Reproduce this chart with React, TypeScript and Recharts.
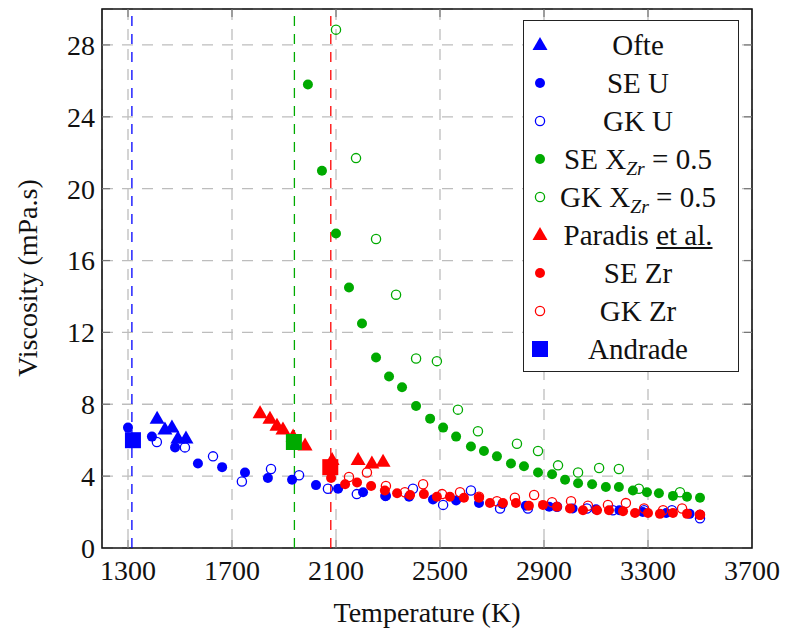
import React from "react";
import {
  ScatterChart,
  Scatter,
  XAxis,
  YAxis,
  CartesianGrid,
  ReferenceLine,
  ReferenceArea,
} from "recharts";

const xTicks = [1300, 1700, 2100, 2500, 2900, 3300, 3700];
const yTicks = [0, 4, 8, 12, 16, 20, 24, 28];
const xMin = 1200;
const xMax = 3700;
const yMin = 0;
const yMax = 30;

// melting points (dashed verticals)
const meltU = 1315;
const meltMix = 1940;
const meltZr = 2080;

const ofteT = [1412, 1442, 1469, 1492, 1523];
const ofteV = [7.2, 6.6, 6.7, 6.1, 6.1];

const seUT = [1300, 1392, 1481, 1569, 1662, 1750, 1838, 1931, 2023, 2108, 2204, 2292, 2381, 2473, 2562, 2650, 2740, 2830, 2920, 3010, 3100, 3190, 3280, 3370, 3460, 3500];
const seUV = [6.7, 6.2, 5.6, 4.7, 4.5, 4.2, 3.9, 3.8, 3.5, 3.3, 3.1, 2.9, 2.85, 2.7, 2.65, 2.5, 2.45, 2.35, 2.3, 2.2, 2.15, 2.1, 2.0, 1.95, 1.9, 1.85];

const gkUT = [1411, 1519, 1627, 1738, 1850, 1958, 2069, 2180, 2290, 2396, 2512, 2619, 2731, 2838, 2950, 3065, 3165, 3285, 3392, 3500];
const gkUV = [5.9, 5.6, 5.1, 3.7, 4.4, 4.05, 3.3, 3.0, 2.9, 3.3, 2.4, 3.2, 2.2, 2.2, 2.3, 2.2, 2.1, 2.1, 2.1, 1.65];

const seMixT = [1992, 2046, 2100, 2150, 2200, 2254, 2304, 2354, 2408, 2462, 2512, 2562, 2619, 2669, 2719, 2773, 2823, 2877, 2931, 2981, 3031, 3085, 3138, 3188, 3242, 3296, 3342, 3396, 3450, 3500];
const seMixV = [25.8, 21.0, 17.5, 14.5, 12.5, 10.6, 9.55, 8.95, 7.9, 7.2, 6.7, 6.2, 5.65, 5.4, 5.1, 4.7, 4.55, 4.2, 4.1, 3.8, 3.6, 3.55, 3.4, 3.4, 3.2, 3.1, 3.05, 2.9, 2.85, 2.8];

const gkMixT = [2100, 2177, 2254, 2331, 2408, 2488, 2569, 2646, 2796, 2877, 2954, 3031, 3112, 3188, 3265, 3423];
const gkMixV = [28.85, 21.7, 17.2, 14.1, 10.55, 10.4, 7.7, 6.5, 5.8, 5.4, 4.6, 4.2, 4.45, 4.4, 3.3, 3.1];

const paradisT = [1808, 1846, 1873, 1896, 1935, 1981, 2085, 2185, 2238, 2281];
const paradisV = [7.5, 7.2, 6.8, 6.6, 6.2, 5.7, 4.9, 4.9, 4.7, 4.8];

const seZrT = [2081, 2135, 2181, 2235, 2288, 2335, 2385, 2438, 2488, 2538, 2592, 2650, 2692, 2742, 2792, 2842, 2896, 2950, 3000, 3050, 3104, 3150, 3204, 3250, 3300, 3346, 3396, 3450, 3500];
const seZrV = [3.9, 3.55, 3.65, 3.45, 3.2, 3.05, 2.95, 3.0, 2.85, 2.85, 2.8, 2.8, 2.5, 2.5, 2.5, 2.35, 2.4, 2.3, 2.2, 2.1, 2.1, 2.1, 2.05, 1.95, 1.95, 1.9, 1.95, 1.9, 1.85];

const gkZrT = [2150, 2219, 2292, 2365, 2435, 2508, 2577, 2650, 2719, 2788, 2862, 2931, 3004, 3069, 3146, 3215, 3285, 3358, 3431, 3500];
const gkZrV = [3.95, 4.2, 3.45, 3.1, 3.55, 3.0, 3.1, 2.85, 2.6, 2.8, 2.95, 2.55, 2.6, 2.35, 2.4, 2.5, 2.2, 2.1, 2.2, 1.85];

const andradeUT = [1319];
const andradeUV = [6.0];
const andradeMixT = [1938];
const andradeMixV = [5.9];
const andradeZrT = [2078];
const andradeZrV = [4.5];

const BLUE = "#0000ff";
const GREEN = "#00aa00";
const RED = "#ff0000";
const FONT = "Liberation Serif";

const pts = (t: number[], v: number[]) => t.map((x, i) => ({ x, y: v[i] }));

type Kind = "tri" | "dot" | "ring" | "sq";

function Marker({ kind, color, cx, cy }: { kind: Kind; color: string; cx: number; cy: number }) {
  if (kind === "tri")
    return (
      <polygon
        points={`${cx},${cy - 8} ${cx - 7.5},${cy + 5} ${cx + 7.5},${cy + 5}`}
        fill={color}
      />
    );
  if (kind === "dot") return <circle cx={cx} cy={cy} r={5} fill={color} />;
  if (kind === "ring")
    return <circle cx={cx} cy={cy} r={4.6} fill="none" stroke={color} strokeWidth={1.3} />;
  return <rect x={cx - 8} y={cy - 8} width={16} height={16} fill={color} />;
}

const shape = (kind: Kind, color: string) => (p: any) =>
  <Marker kind={kind} color={color} cx={p.cx} cy={p.cy} />;

const series: { name: string; kind: Kind; color: string; data: { x: number; y: number }[] }[] = [
  { name: "Ofte", kind: "tri", color: BLUE, data: pts(ofteT, ofteV) },
  { name: "SE U", kind: "dot", color: BLUE, data: pts(seUT, seUV) },
  { name: "GK U", kind: "ring", color: BLUE, data: pts(gkUT, gkUV) },
  { name: "SE Xmix", kind: "dot", color: GREEN, data: pts(seMixT, seMixV) },
  { name: "GK Xmix", kind: "ring", color: GREEN, data: pts(gkMixT, gkMixV) },
  { name: "Paradis", kind: "tri", color: RED, data: pts(paradisT, paradisV) },
  { name: "SE Zr", kind: "dot", color: RED, data: pts(seZrT, seZrV) },
  { name: "GK Zr", kind: "ring", color: RED, data: pts(gkZrT, gkZrV) },
  { name: "Andrade U", kind: "sq", color: BLUE, data: pts(andradeUT, andradeUV) },
  { name: "Andrade mix", kind: "sq", color: GREEN, data: pts(andradeMixT, andradeMixV) },
  { name: "Andrade Zr", kind: "sq", color: RED, data: pts(andradeZrT, andradeZrV) },
];

const sub = (
  <sub style={{ fontSize: "0.68em", fontStyle: "italic", verticalAlign: "-0.3em", fontFamily: FONT }}>Zr</sub>
);

const legendItems: { kind: Kind; color: string; label: React.ReactNode }[] = [
  { kind: "tri", color: BLUE, label: "Ofte" },
  { kind: "dot", color: BLUE, label: "SE U" },
  { kind: "ring", color: BLUE, label: "GK U" },
  { kind: "dot", color: GREEN, label: <>SE X{sub} = 0.5</> },
  { kind: "ring", color: GREEN, label: <>GK X{sub} = 0.5</> },
  { kind: "tri", color: RED, label: <>Paradis <u>et al.</u></> },
  { kind: "dot", color: RED, label: "SE Zr" },
  { kind: "ring", color: RED, label: "GK Zr" },
  { kind: "sq", color: BLUE, label: "Andrade" },
];

const tickLenY = 0.45;
const tickLenX = 31;

function YTitle() {
  return (
    <text
      x={37}
      y={278}
      transform="rotate(-90 37 278)"
      textAnchor="middle"
      fontSize={28}
      fontFamily={FONT}
      fill="#111"
    >
      Viscosity (mPa.s)
    </text>
  );
}

export default function App() {
  const tickStyle = { fontSize: 28, fill: "#111", fontFamily: FONT };
  return (
    <div
      style={{
        position: "absolute",
        left: 0,
        top: 0,
        width: 785,
        height: 629,
        background: "#fff",
        fontFamily: FONT,
      }}
    >
      <ScatterChart width={785} height={629} margin={{ top: 9, right: 33, bottom: 0, left: 0 }}>
        <CartesianGrid stroke="#bdbdbd" strokeWidth={1.3} strokeDasharray="11 9" />
        <XAxis
          type="number"
          dataKey="x"
          domain={[xMin, xMax]}
          ticks={xTicks}
          height={81}
          tickLine={false}
          axisLine={false}
          tickSize={0}
          tickMargin={12}
          tick={tickStyle}
          label={{
            value: "Temperature (K)",
            position: "insideBottom",
            offset: 7,
            style: { fontSize: 28, fill: "#111", fontFamily: FONT },
          }}
        />
        <YAxis
          type="number"
          dataKey="y"
          domain={[yMin, yMax]}
          ticks={yTicks}
          width={102}
          tickLine={false}
          axisLine={false}
          tickSize={0}
          tickMargin={7}
          tick={tickStyle}
          label={{ content: () => <YTitle /> }}
        />
        <ReferenceLine x={meltU} stroke={BLUE} strokeWidth={1.3} strokeDasharray="10 8" />
        <ReferenceLine x={meltMix} stroke={GREEN} strokeWidth={1.3} strokeDasharray="10 8" />
        <ReferenceLine x={meltZr} stroke={RED} strokeWidth={1.3} strokeDasharray="10 8" />
        {xTicks
          .filter((t) => t > xMin && t < xMax)
          .flatMap((t) => [
            <ReferenceLine key={`xb${t}`} segment={[{ x: t, y: yMin }, { x: t, y: yMin + tickLenY }]} stroke="#777" strokeWidth={1.2} />,
            <ReferenceLine key={`xt${t}`} segment={[{ x: t, y: yMax - tickLenY }, { x: t, y: yMax }]} stroke="#777" strokeWidth={1.2} />,
          ])}
        {yTicks
          .filter((t) => t > yMin && t < yMax)
          .flatMap((t) => [
            <ReferenceLine key={`yl${t}`} segment={[{ x: xMin, y: t }, { x: xMin + tickLenX, y: t }]} stroke="#777" strokeWidth={1.2} />,
            <ReferenceLine key={`yr${t}`} segment={[{ x: xMax - tickLenX, y: t }, { x: xMax, y: t }]} stroke="#777" strokeWidth={1.2} />,
          ])}
        {series.map((s) => (
          <Scatter
            key={s.name}
            name={s.name}
            data={s.data}
            shape={shape(s.kind, s.color)}
            isAnimationActive={false}
          />
        ))}
        <ReferenceArea x1={xMin} x2={xMax} y1={yMin} y2={yMax} fill="none" stroke="#111" strokeWidth={1.6} />
      </ScatterChart>
      <div
        style={{
          position: "absolute",
          left: 523,
          top: 20,
          width: 216,
          height: 352,
          boxSizing: "border-box",
          border: "1.5px solid #222",
          background: "#fff",
        }}
      >
        {legendItems.map((it, i) => (
          <div
            key={i}
            style={{ position: "absolute", left: 0, right: 0, top: 5 + i * 38, height: 38 }}
          >
            <svg width={34} height={38} style={{ position: "absolute", left: 0, top: 0 }}>
              <Marker kind={it.kind} color={it.color} cx={16} cy={19} />
            </svg>
            <span
              style={{
                position: "absolute",
                left: 114,
                top: 0,
                transform: "translateX(-50%)",
                whiteSpace: "nowrap",
                fontSize: 29,
                lineHeight: "38px",
                color: "#111",
                fontFamily: FONT,
              }}
            >
              {it.label}
            </span>
          </div>
        ))}
      </div>
    </div>
  );
}
